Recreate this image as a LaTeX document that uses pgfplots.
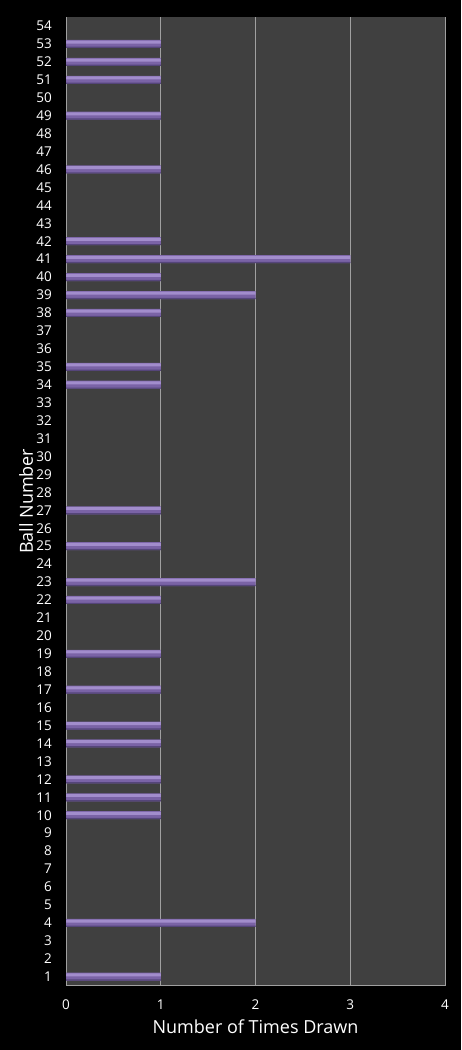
\documentclass[border=0pt]{standalone}
\usepackage{pgfplots}
\pgfplotsset{compat=1.18}
\usepackage{fontspec}
\setmainfont{Open Sans}
\definecolor{plotbg}{HTML}{404040}
\definecolor{gridc}{HTML}{A0A0A0}
\definecolor{barhi}{HTML}{A28DCC}
\definecolor{barmid}{HTML}{7A63A6}
\definecolor{barlo}{HTML}{55457A}

\pgfplotstableread{
ball count
1 1
4 2
10 1
11 1
12 1
14 1
15 1
17 1
19 1
22 1
23 2
25 1
27 1
34 1
35 1
38 1
39 2
40 1
41 3
42 1
46 1
49 1
51 1
52 1
53 1
}\drawtable

\begin{document}
\begin{tikzpicture}
\fill[black] (0,0) rectangle (461pt,1050pt);
\begin{axis}[
    at={(66pt,64.4pt)}, anchor=south west,
    scale only axis,
    width=379pt, height=968.6pt,
    axis background/.style={fill=plotbg},
    xmin=0, xmax=4, xtick={0,1,2,3,4},
    ymin=0.5, ymax=54.5, ytick={1,...,54},
    axis lines*=left,
    axis line style={gridc, line width=0.8pt},
    xmajorgrids, major grid style={gridc, line width=0.8pt},
    major tick length=0pt,
    tick label style={white, font=\fontsize{13.5}{14}\selectfont},
    yticklabel style={anchor=east, inner sep=0pt, xshift=-14pt},
    xticklabel style={anchor=center, inner sep=0pt, yshift=-19.5pt},
    label style={white, font=\fontsize{18}{19}\selectfont},
    xlabel={Number of Times Drawn},
    xlabel style={at={(rel axis cs:0.5,0)}, anchor=center, yshift=-41pt},
    ylabel={Ball Number},
    ylabel style={at={(rel axis cs:0,0.5)}, anchor=center, yshift=40pt},
    /pgf/number format/assume math mode=true,
]
% body of each bar
\addplot[xbar, bar width=8pt, draw=none, fill=barmid]
    table[x=count, y=ball] {\drawtable};
% light band along the top
\addplot[xbar, bar width=3pt, bar shift=1.8pt, draw=none, fill=barhi]
    table[x=count, y=ball] {\drawtable};
% dark edge along the bottom
\addplot[xbar, bar width=1.2pt, bar shift=-3.4pt, draw=none, fill=barlo]
    table[x=count, y=ball] {\drawtable};
\end{axis}
\end{tikzpicture}
\end{document}
